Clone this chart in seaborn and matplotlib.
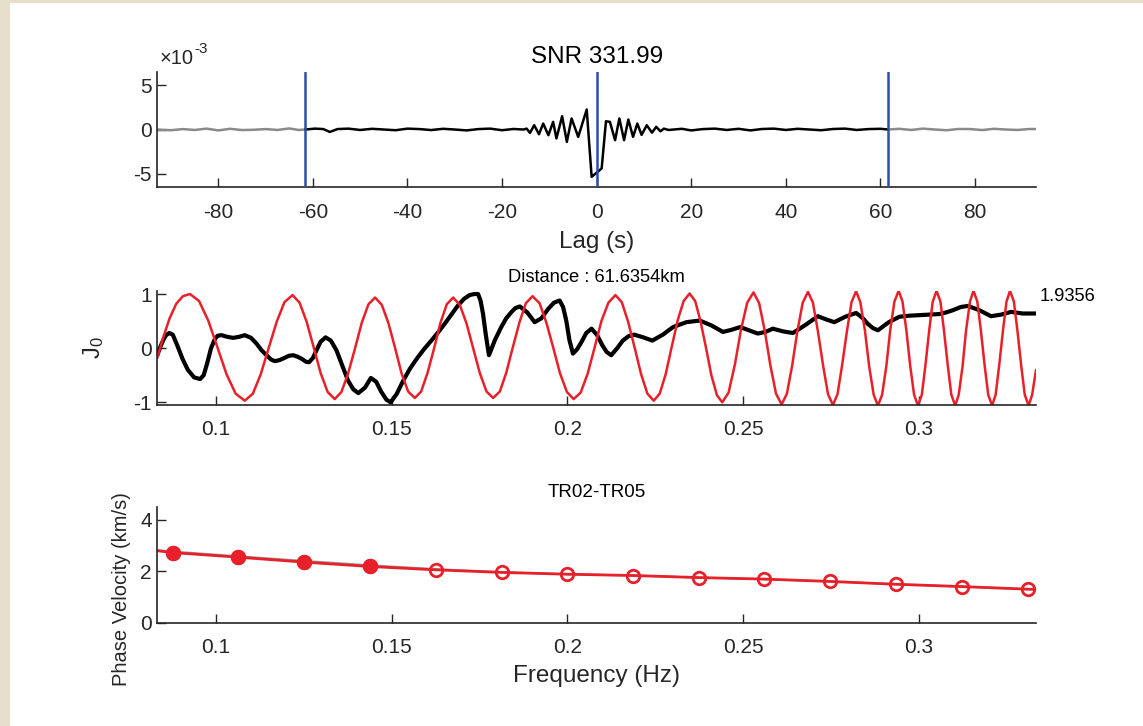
import matplotlib
matplotlib.use("Agg")
import matplotlib.pyplot as plt
from matplotlib.patches import Rectangle
from matplotlib.ticker import FuncFormatter
import matplotlib.transforms as mtransforms
import seaborn as sns

# ---------------- data ----------------
# Top panel: cross-correlation (amplitude in units of 1e-3) vs lag (s)
ccf_lag = [-61.6, -59.5, -57.8, -56.4, -54.8, -52.5, -50.0, -47.5, -45.0, -42.5,
           -40.0, -37.5, -35.0, -32.5, -30.0, -27.5, -25.0, -22.5, -20.0, -17.6,
           -15.5, -14.8, -14.1, -13.2, -12.2, -11.3, -10.2, -9.2, -8.5, -7.3,
           -6.3, -5.3, -3.9, -2.1, -1.06, 1.06, 1.97, 2.8, 3.9, 4.8,
           5.8, 6.7, 7.7, 8.6, 9.5, 10.6, 11.7, 12.6, 13.5, 14.2,
           15.2, 16.3, 18.0, 20.0, 22.5, 25.0, 27.5, 30.0, 32.5, 35.0,
           37.5, 40.0, 42.5, 45.0, 47.5, 50.0, 52.5, 55.0, 57.5, 60.0,
           61.6]
ccf_amp = [0.0, 0.1, 0.05, -0.27, 0.05, 0.1, -0.05, 0.08, 0.0, -0.08,
           0.1, 0.05, -0.06, 0.08, 0.0, -0.1, 0.05, 0.1, -0.08, 0.06,
           0.0, 0.1, -0.38, 0.48, -0.53, 0.67, -0.64, 0.86, -1.0, 1.49,
           -1.39, 1.24, -0.83, 2.25, -5.32, -4.38, 0.93, 0.86, -1.2, 1.24,
           -1.2, 1.12, -0.83, 0.67, -0.6, 0.48, -0.35, 0.3, -0.2, 0.1,
           -0.05, 0.0, 0.08, -0.1, 0.05, 0.1, -0.05, 0.08, -0.1, 0.06,
           0.1, -0.05, 0.08, 0.0, -0.08, 0.06, 0.1, -0.05, 0.05, 0.08,
           0.0]
noise_left_lag = [-93, -90, -87.5, -85, -82.5, -80, -77.5, -75, -72.5, -70, -67.5, -65, -63, -61.6]
noise_left_amp = [0.0, -0.08, 0.05, -0.05, 0.1, -0.1, 0.08, -0.06, -0.03, 0.05, -0.05, 0.12, -0.05, 0.0]
noise_right_lag = [61.6, 64, 66.5, 69, 71.5, 74, 76.5, 79, 81.5, 84, 86.5, 89, 91.5, 93]
noise_right_amp = [0.0, 0.08, -0.05, 0.1, 0.0, -0.08, 0.06, 0.05, -0.06, 0.08, 0.0, -0.05, 0.06, 0.05]
window_lags = [-61.6354, 0.0, 61.6354]
snr_value = 331.99
distance_km = 61.6354
misfit_value = 1.9356
station_pair = "TR02-TR05"

# Middle panel: model J0 (red) and observed spectrum (black) vs frequency (Hz)
model_freq = [0.0833, 0.0850, 0.0868, 0.0887, 0.0906, 0.0926,
              0.0952, 0.0978, 0.1004, 0.1030, 0.1056, 0.1082,
              0.1105, 0.1127, 0.1150, 0.1173, 0.1195, 0.1218,
              0.1238, 0.1258, 0.1278, 0.1298, 0.1318, 0.1338,
              0.1357, 0.1376, 0.1396, 0.1415, 0.1434, 0.1453,
              0.1472, 0.1491, 0.1510, 0.1528, 0.1547, 0.1566,
              0.1584, 0.1602, 0.1621, 0.1639, 0.1657, 0.1675,
              0.1694, 0.1713, 0.1732, 0.1751, 0.1770, 0.1789,
              0.1808, 0.1826, 0.1845, 0.1864, 0.1882, 0.1901,
              0.1921, 0.1940, 0.1960, 0.1979, 0.1999, 0.2018,
              0.2038, 0.2058, 0.2078, 0.2097, 0.2117, 0.2137,
              0.2155, 0.2173, 0.2192, 0.2210, 0.2228, 0.2246,
              0.2263, 0.2280, 0.2297, 0.2314, 0.2331, 0.2348,
              0.2364, 0.2379, 0.2395, 0.2410, 0.2426, 0.2441,
              0.2459, 0.2477, 0.2494, 0.2512, 0.2530,
              0.2546, 0.2562, 0.2578, 0.2594, 0.2610,
              0.2625, 0.2640, 0.2655, 0.2670, 0.2685,
              0.2699, 0.2713, 0.2728, 0.2742, 0.2756,
              0.2769, 0.2782, 0.2796, 0.2809, 0.2822,
              0.2834, 0.2847, 0.2859, 0.2872, 0.2884,
              0.2896, 0.2908, 0.2919, 0.2931, 0.2943,
              0.2954, 0.2965, 0.2976, 0.2987, 0.2998,
              0.3009, 0.3019, 0.3030, 0.3040, 0.3051,
              0.3062, 0.3072, 0.3083, 0.3093, 0.3104,
              0.3114, 0.3125, 0.3135, 0.3146, 0.3156,
              0.3167, 0.3177, 0.3188, 0.3198, 0.3209,
              0.3219, 0.3229, 0.3240, 0.3250, 0.3260,
              0.3271, 0.3281, 0.3292, 0.3302, 0.3313,
              0.3323, 0.3334]
model_j0 = [-0.18, 0.20, 0.55, 0.82, 0.96, 1.00,
            0.87, 0.51, 0.02, -0.48, -0.84, -0.97,
            -0.84, -0.49, 0.00, 0.49, 0.85, 0.98,
            0.84, 0.49, 0.02, -0.46, -0.81, -0.94,
            -0.81, -0.47, 0.00, 0.47, 0.81, 0.935,
            0.80, 0.46, 0.00, -0.46, -0.80, -0.92,
            -0.80, -0.46, 0.00, 0.47, 0.81, 0.935,
            0.80, 0.46, 0.00, -0.46, -0.80, -0.92,
            -0.80, -0.46, 0.02, 0.48, 0.83, 0.96,
            0.83, 0.48, 0.01, -0.46, -0.81, -0.94,
            -0.82, -0.47, 0.02, 0.50, 0.84, 0.98,
            0.85, 0.49, 0.00, -0.48, -0.84, -0.97,
            -0.84, -0.48, 0.02, 0.51, 0.87, 1.01,
            0.87, 0.50, 0.00, -0.50, -0.87, -1.00,
            -0.82, -0.30, 0.33, 0.84, 1.03,
            0.83, 0.32, -0.32, -0.84, -1.04,
            -0.84, -0.32, 0.32, 0.84, 1.04,
            0.84, 0.32, -0.32, -0.85, -1.05,
            -0.85, -0.32, 0.32, 0.85, 1.05,
            0.85, 0.33, -0.33, -0.86, -1.06,
            -0.86, -0.33, 0.33, 0.86, 1.06,
            0.86, 0.33, -0.33, -0.86, -1.06,
            -0.86, -0.33, 0.33, 0.86, 1.06,
            0.86, 0.33, -0.33, -0.86, -1.06,
            -0.86, -0.33, 0.33, 0.86, 1.06,
            0.86, 0.33, -0.33, -0.86, -1.06,
            -0.86, -0.33, 0.33, 0.86, 1.06,
            0.86, 0.33, -0.33, -0.86, -1.06,
            -0.86, -0.40]
obs_freq = [0.0833, 0.0842, 0.0850, 0.0858, 0.0867, 0.0877, 0.0890, 0.0905, 0.0920, 0.0938,
            0.0955, 0.0965, 0.0975, 0.0986, 0.0997, 0.1005, 0.1016, 0.1032, 0.1049, 0.1066,
            0.1082, 0.1100, 0.1116, 0.1130, 0.1144, 0.1157, 0.1168, 0.1181, 0.1195, 0.1208,
            0.1220, 0.1233, 0.1245, 0.1256, 0.1265, 0.1276, 0.1286, 0.1298, 0.1312, 0.1327,
            0.1343, 0.1360, 0.1376, 0.1391, 0.1405, 0.1424, 0.1441, 0.1456, 0.1470, 0.1485,
            0.1497, 0.1514, 0.1533, 0.1552, 0.1571, 0.1592, 0.1613, 0.1632, 0.1651, 0.1670,
            0.1689, 0.1706, 0.1722, 0.1735, 0.1746, 0.1753, 0.1760, 0.1768, 0.1777, 0.1794,
            0.1812, 0.1826, 0.1840, 0.1852, 0.1865, 0.1886, 0.1907, 0.1926, 0.1945, 0.1962,
            0.1978, 0.1988, 0.1997, 0.2006, 0.2016, 0.2028, 0.2040, 0.2054, 0.2069, 0.2085,
            0.2100, 0.2112, 0.2125, 0.2142, 0.2158, 0.2174, 0.2190, 0.2216, 0.2242, 0.2272,
            0.2301, 0.2339, 0.2377, 0.2410, 0.2443, 0.2468, 0.2492, 0.2517, 0.2542, 0.2564,
            0.2585, 0.2614, 0.2642, 0.2678, 0.2713, 0.2737, 0.2760, 0.2791, 0.2822, 0.2840,
            0.2855, 0.2870, 0.2884, 0.2915, 0.2945, 0.2974, 0.3002, 0.3030, 0.3059, 0.3078,
            0.3097, 0.3120, 0.3140, 0.3173, 0.3206, 0.3235, 0.3263, 0.3296, 0.3333]
obs_j0 = [-0.13, 0.03, 0.15, 0.24, 0.28, 0.25, 0.05, -0.20, -0.40, -0.54,
          -0.57, -0.50, -0.28, 0.00, 0.17, 0.23, 0.24, 0.21, 0.19, 0.21,
          0.24, 0.19, 0.08, -0.04, -0.13, -0.21, -0.24, -0.22, -0.18, -0.14,
          -0.13, -0.16, -0.20, -0.25, -0.26, -0.18, -0.04, 0.12, 0.20, 0.14,
          -0.04, -0.33, -0.60, -0.76, -0.83, -0.73, -0.55, -0.62, -0.80, -0.95,
          -1.00, -0.85, -0.60, -0.38, -0.20, -0.02, 0.14, 0.29, 0.45, 0.62,
          0.79, 0.91, 0.98, 1.00, 1.00, 0.88, 0.64, 0.25, -0.13, 0.15,
          0.39, 0.55, 0.66, 0.74, 0.77, 0.66, 0.48, 0.55, 0.72, 0.84,
          0.88, 0.76, 0.51, 0.15, -0.10, -0.02, 0.11, 0.28, 0.36, 0.24,
          0.05, -0.07, -0.13, 0.00, 0.14, 0.22, 0.25, 0.20, 0.14, 0.25,
          0.39, 0.48, 0.51, 0.42, 0.30, 0.34, 0.39, 0.33, 0.27, 0.30,
          0.36, 0.31, 0.28, 0.43, 0.59, 0.53, 0.48, 0.58, 0.65, 0.56,
          0.45, 0.37, 0.33, 0.48, 0.58, 0.60, 0.61, 0.62, 0.63, 0.66,
          0.70, 0.76, 0.78, 0.70, 0.59, 0.62, 0.67, 0.64, 0.64]

# Bottom panel: phase velocity dispersion
pv_freq = [0.0877, 0.1063, 0.1250, 0.1438, 0.1626, 0.1813, 0.1999,
           0.2187, 0.2374, 0.2561, 0.2748, 0.2936, 0.3124, 0.3310]
pv_vel = [2.72, 2.54, 2.35, 2.18, 2.05, 1.95, 1.88,
          1.83, 1.75, 1.69, 1.60, 1.49, 1.40, 1.30]
pv_line_freq = [0.0833, 0.0877, 0.1063, 0.1250, 0.1438, 0.1626, 0.1813, 0.1999,
                0.2187, 0.2374, 0.2561, 0.2748, 0.2936, 0.3124, 0.3310, 0.3334]
pv_line_vel = [2.79, 2.72, 2.54, 2.35, 2.18, 2.05, 1.95, 1.88,
               1.83, 1.75, 1.69, 1.60, 1.49, 1.40, 1.30, 1.29]
ref_vel = [2.82, 2.76, 2.58, 2.40, 2.23, 2.08, 1.96, 1.88,
           1.83, 1.75, 1.69, 1.60, 1.49, 1.40, 1.30, 1.29]
n_filled = 4

assert len(ccf_lag) == len(ccf_amp)
assert len(model_freq) == len(model_j0)
assert len(obs_freq) == len(obs_j0), (len(obs_freq), len(obs_j0))

# ---------------- style ----------------
sns.set_theme(style="ticks")
plt.rcParams["font.family"] = ["Liberation Sans", "DejaVu Sans"]
plt.rcParams["axes.unicode_minus"] = False
plt.rcParams["mathtext.fontset"] = "custom"
plt.rcParams["mathtext.rm"] = "Liberation Sans"
plt.rcParams["mathtext.it"] = "Liberation Sans:italic"

AX_COL = "#262626"
RED = "#e8202a"
BLUE = "#2c4fae"
GRAY = "#8a8a8a"
TICK_FS = 15
LABEL_FS = 17.5

fig = plt.figure(figsize=(11.43, 7.26), dpi=100)
fig.patch.set_facecolor("white")
fig.patches.append(Rectangle((0, 0), 10 / 1143, 1, transform=fig.transFigure,
                             facecolor="#e6dfcc", edgecolor="none", zorder=-5))
fig.patches.append(Rectangle((0, 1 - 3 / 726), 1, 3 / 726, transform=fig.transFigure,
                             facecolor="#e6dfcc", edgecolor="none", zorder=-5))

L, W = 0.1376, 0.7688
ax1 = fig.add_axes([L, 0.742, W, 0.1592])
ax2 = fig.add_axes([L, 0.4421, W, 0.1574])
ax3 = fig.add_axes([L, 0.1423, W, 0.1598])

fmt = FuncFormatter(lambda v, p: f"{v:g}")


def style(ax):
    sns.despine(ax=ax)
    for s in ["left", "bottom"]:
        ax.spines[s].set_color(AX_COL)
        ax.spines[s].set_linewidth(1.2)
    ax.tick_params(direction="in", length=6.5, width=1.0, colors=AX_COL,
                   labelsize=TICK_FS)
    ax.tick_params(axis="x", pad=11)
    ax.tick_params(axis="y", pad=4)
    ax.xaxis.set_major_formatter(fmt)
    ax.yaxis.set_major_formatter(fmt)
    ax.set_facecolor("white")
    ax.grid(False)


# ---------------- top panel ----------------
sns.lineplot(x=noise_left_lag, y=noise_left_amp, ax=ax1, color=GRAY, lw=1.8,
             sort=False, estimator=None)
sns.lineplot(x=noise_right_lag, y=noise_right_amp, ax=ax1, color=GRAY, lw=1.8,
             sort=False, estimator=None)
sns.lineplot(x=ccf_lag, y=ccf_amp, ax=ax1, color="black", lw=1.8,
             sort=False, estimator=None)
for wl in window_lags:
    ax1.axvline(wl, color=BLUE, lw=1.8, zorder=5)
ax1.set_xlim(-92.9, 92.9)
ax1.set_ylim(-6.5, 6.5)
ax1.set_xticks(list(range(-80, 81, 20)))
ax1.set_yticks([-5, 0, 5])
style(ax1)
ax1.set_title(f"SNR {snr_value:.2f}", fontsize=LABEL_FS, pad=6, color="black")
ax1.set_xlabel("Lag (s)", fontsize=LABEL_FS, color=AX_COL, labelpad=7)
ax1.set_ylabel("")
t = ax1.text(0.003, 1.067, "\u00d710", transform=ax1.transAxes, fontsize=14.5,
             color=AX_COL, ha="left", va="baseline")
ax1.annotate("-3", xy=(1.0, 0.62), xycoords=t, fontsize=11, color=AX_COL,
             ha="left", va="bottom")

# ---------------- middle panel ----------------
sns.lineplot(x=obs_freq, y=obs_j0, ax=ax2, color="black", lw=3.0,
             sort=False, estimator=None)
sns.lineplot(x=model_freq, y=model_j0, ax=ax2, color=RED, lw=1.8,
             sort=False, estimator=None)
ax2.set_xlim(0.0833, 0.3334)
ax2.set_ylim(-1.05, 1.06)
ax2.set_xticks([0.1, 0.15, 0.2, 0.25, 0.3])
ax2.set_yticks([-1, 0, 1])
style(ax2)
ax2.set_title(f"Distance : {distance_km:.4f}km", fontsize=13.2, pad=6, color="black")
ax2.set_xlabel("")
ax2.set_ylabel("J$_0$", fontsize=17, color=AX_COL)
ax2.yaxis.set_label_coords(-0.058, 0.5)
trans = mtransforms.blended_transform_factory(ax2.transAxes, ax2.transData)
ax2.text(1.004, 0.96, f"{misfit_value:.4f}", transform=trans, fontsize=13.2,
         color="black", ha="left", va="center", clip_on=False)

# ---------------- bottom panel ----------------
sns.lineplot(x=pv_line_freq, y=ref_vel, ax=ax3, color="#9a9a9a", lw=1.4,
             sort=False, estimator=None)
sns.lineplot(x=pv_line_freq, y=pv_line_vel, ax=ax3, color=RED, lw=2.0,
             sort=False, estimator=None)
sns.lineplot(x=pv_freq, y=pv_vel, ax=ax3, lw=0, marker="o", markersize=9,
             markerfacecolor="none", markeredgecolor=RED, markeredgewidth=2.0,
             sort=False, estimator=None, color=RED)
sns.lineplot(x=pv_freq[:n_filled], y=pv_vel[:n_filled], ax=ax3, lw=0, marker="o",
             markersize=9, markerfacecolor=RED, markeredgecolor=RED,
             markeredgewidth=2.0, sort=False, estimator=None, color=RED)
ax3.set_xlim(0.0833, 0.3334)
ax3.set_ylim(0, 4.5)
ax3.set_xticks([0.1, 0.15, 0.2, 0.25, 0.3])
ax3.set_yticks([0, 2, 4])
style(ax3)
ax3.set_title(station_pair, fontsize=13.6, pad=7, color="black")
ax3.set_xlabel("Frequency (Hz)", fontsize=LABEL_FS, color=AX_COL, labelpad=6)
ax3.set_ylabel("Phase Velocity (km/s)", fontsize=14.5, color=AX_COL)
ax3.yaxis.set_label_coords(-0.03, 0.29)

fig.savefig("out.png", dpi=100, facecolor="white")
